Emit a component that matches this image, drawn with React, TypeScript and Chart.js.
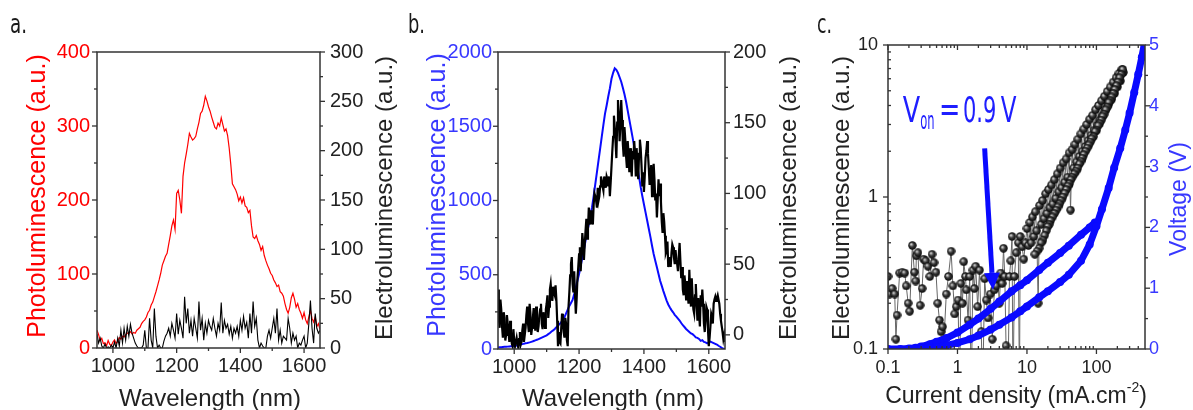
import React, { useEffect, useRef } from "react";
import { Chart, registerables } from "chart.js";
Chart.register(...registerables);

const SANS = "'Liberation Sans', Arial, Helvetica, sans-serif";
const NARROW = "'Liberation Sans Narrow', 'Arial Narrow', 'DejaVu Sans Condensed', 'Liberation Sans', sans-serif";
const AXIS = "#333333";
const RED = "#ff0000";
const BLUE = "#0a0aff";
const BLUE_TXT = "#3838ff";

// ---------- shared wavelength grid (nm) ----------
const wavelengths = [
  950, 955, 960, 965, 970, 975, 980, 985, 990, 995,
  1000, 1005, 1010, 1015, 1020, 1025, 1030, 1035, 1040, 1045,
  1050, 1055, 1060, 1065, 1070, 1075, 1080, 1085, 1090, 1095,
  1100, 1105, 1110, 1115, 1120, 1125, 1130, 1135, 1140, 1145,
  1150, 1155, 1160, 1165, 1170, 1175, 1180, 1185, 1190, 1195,
  1200, 1205, 1210, 1215, 1220, 1225, 1230, 1235, 1240, 1245,
  1250, 1255, 1260, 1265, 1270, 1275, 1280, 1285, 1290, 1295,
  1300, 1305, 1310, 1315, 1320, 1325, 1330, 1335, 1340, 1345,
  1350, 1355, 1360, 1365, 1370, 1375, 1380, 1385, 1390, 1395,
  1400, 1405, 1410, 1415, 1420, 1425, 1430, 1435, 1440, 1445,
  1450, 1455, 1460, 1465, 1470, 1475, 1480, 1485, 1490, 1495,
  1500, 1505, 1510, 1515, 1520, 1525, 1530, 1535, 1540, 1545,
  1550, 1555, 1560, 1565, 1570, 1575, 1580, 1585, 1590, 1595,
  1600, 1605, 1610, 1615, 1620, 1625, 1630, 1635, 1640, 1645,
  1650,
];
// intermediate sampling points used by the finely-sampled EL spectrum of panel b
const wavelengthsMid = [
  952.5, 957.5, 962.5, 967.5, 972.5, 977.5, 982.5, 987.5, 992.5, 997.5,
  1002.5, 1007.5, 1012.5, 1017.5, 1022.5, 1027.5, 1032.5, 1037.5, 1042.5, 1047.5,
  1052.5, 1057.5, 1062.5, 1067.5, 1072.5, 1077.5, 1082.5, 1087.5, 1092.5, 1097.5,
  1102.5, 1107.5, 1112.5, 1117.5, 1122.5, 1127.5, 1132.5, 1137.5, 1142.5, 1147.5,
  1152.5, 1157.5, 1162.5, 1167.5, 1172.5, 1177.5, 1182.5, 1187.5, 1192.5, 1197.5,
  1202.5, 1207.5, 1212.5, 1217.5, 1222.5, 1227.5, 1232.5, 1237.5, 1242.5, 1247.5,
  1252.5, 1257.5, 1262.5, 1267.5, 1272.5, 1277.5, 1282.5, 1287.5, 1292.5, 1297.5,
  1302.5, 1307.5, 1312.5, 1317.5, 1322.5, 1327.5, 1332.5, 1337.5, 1342.5, 1347.5,
  1352.5, 1357.5, 1362.5, 1367.5, 1372.5, 1377.5, 1382.5, 1387.5, 1392.5, 1397.5,
  1402.5, 1407.5, 1412.5, 1417.5, 1422.5, 1427.5, 1432.5, 1437.5, 1442.5, 1447.5,
  1452.5, 1457.5, 1462.5, 1467.5, 1472.5, 1477.5, 1482.5, 1487.5, 1492.5, 1497.5,
  1502.5, 1507.5, 1512.5, 1517.5, 1522.5, 1527.5, 1532.5, 1537.5, 1542.5, 1547.5,
  1552.5, 1557.5, 1562.5, 1567.5, 1572.5, 1577.5, 1582.5, 1587.5, 1592.5, 1597.5,
  1602.5, 1607.5, 1612.5, 1617.5, 1622.5, 1627.5, 1632.5, 1637.5, 1642.5, 1647.5,
];

// ---------- panel a ----------
const plA = [
  24, 18, 10, 13, 6, 7, 3, 10, 5, 3,
  8, 11, 6, 9, 14, 12, 16, 15, 18, 20,
  20, 22, 19, 21, 20, 24, 26, 28, 33, 36,
  38, 42, 48, 51, 58, 62, 69, 76, 84, 92,
  101, 112, 118, 124, 128, 140, 152, 165, 173, 160,
  209, 213, 200, 182, 232, 250, 262, 275, 290, 285,
  281, 283, 286, 296, 305, 317, 320, 328, 340, 334,
  326, 320, 312, 305, 298, 296, 304, 300, 311, 302,
  293, 296, 287, 270, 248, 222, 218, 214, 208, 199,
  204, 196, 203, 192, 190, 183, 186, 165, 150, 148,
  152, 145, 140, 132, 137, 125, 118, 112, 107, 101,
  98, 92, 88, 83, 85, 76, 74, 70, 60, 52,
  47, 55, 68, 74, 66, 55, 60, 52, 47, 40,
  48, 38, 33, 42, 51, 40, 35, 42, 29, 33,
  25,
];
const elA = [
  14, 5, 10, 2, 0, 4, 0, 1, 0, 3,
  0, 6, 0, 10, 2, 18, 5, 20, 8, 22,
  12, 24, 15, 10, 5, 2, 0, 0, 0, 3,
  18, 0, 0, 30, 8, 0, 40, 12, 0, 3,
  0, 0, 7, 12, 15, 20, 12, 25, 18, 10,
  35, 14, 28, 20, 10, 52, 25, 40, 15, 28,
  12, 30, 20, 10, 47, 18, 30, 8, 25, 15,
  28, 22, 18, 30, 20, 12, 25, 18, 46, 15,
  28, 20, 24, 14, 22, 10, 20, 15, 22, 12,
  28, 18, 32, 20, 26, 10, 35, 15, 47, 22,
  30, 8, 0, 5, 2, 0, 0, 12, 18, 10,
  20, 30, 15, 40, 8, 18, 5, 12, 10, 8,
  30, 20, 5, 15, 8, 12, 0, 5, 3, 8,
  12, 0, 5, 25, 48, 20, 5, 35, 20, 15,
  18,
];

// ---------- panel b ----------
const plB = [
  10, 12, 12, 14, 15, 15, 16, 17, 18, 19,
  20, 22, 25, 28, 30, 33, 36, 38, 40, 43,
  46, 50, 54, 58, 62, 66, 72, 77, 82, 87,
  92, 100, 108, 118, 125, 135, 146, 158, 168, 180,
  192, 215, 240, 265, 290, 310, 330, 370, 415, 460,
  505, 560, 615, 670, 730, 785, 840, 900, 955, 1030,
  1110, 1190, 1270, 1350, 1430, 1510, 1585, 1640, 1700, 1755,
  1820, 1860, 1890, 1880, 1860, 1830, 1800, 1760, 1715, 1665,
  1605, 1545, 1485, 1425, 1360, 1290, 1225, 1160, 1090, 1030,
  975, 920, 865, 810, 755, 695, 640, 595, 550, 505,
  460, 425, 390, 358, 326, 300, 280, 262, 247, 230,
  218, 205, 192, 175, 160, 148, 135, 125, 115, 105,
  100, 90, 78, 75, 68, 55, 60, 48, 45, 38,
  45, 50, 45, 40, 35, 30, 22, 15, 8, 2,
  0,
];
const elB = [
  32, 5, 18, -2, 12, 0, 8, -5, 2, -8,
  -4, -8, -6, -3, -7, 3, -5, 5, 20, 2,
  15, 5, 19, 3, 12, 6, 18, 8, 16, 5,
  22, 12, 32, 28, 34, 28, 25, -8, -5, 5,
  10, -2, 8, -8, 30, 50, 36, 45, 15, 40,
  57, 45, 72, 53, 74, 68, 90, 78, 83, 92,
  98, 90, 95, 105, 109, 102, 108, 112, 105, 98,
  119, 140, 147, 125, 166, 137, 166, 135, 147, 126,
  137, 115, 119, 130, 137, 112, 119, 128, 132, 105,
  101, 125, 137, 118, 111, 98, 121, 95, 83, 110,
  107, 80, 86, 70, 60, 48, 55, 58, 62, 50,
  53, 45, 65, 40, 32, 42, 25, 30, 46, 20,
  27, 15, 36, 10, 15, 28, 32, 8, 11, 18,
  -8, 6, 13, 22, 27, 26, 25, 15, 6, -3,
  -5,
];
const elBMid = [
  12, 25, 6, 16, -4, 14, 2, 10, -6, 4,
  -8, -2, -9, 2, -5, 8, 0, 14, 8, 22,
  0, 12, 10, 20, 2, 14, 22, 4, 12, 18,
  28, 20, 36, 24, 30, 35, 10, 2, -6, 15,
  2, 12, -4, 20, 42, 55, 30, 28, 25, 48,
  62, 58, 65, 64, 82, 75, 85, 88, 78, 100,
  95, 104, 98, 112, 105, 112, 104, 110, 112, 108,
  130, 155, 136, 150, 155, 150, 152, 126, 138, 118,
  128, 132, 112, 124, 128, 132, 110, 138, 120, 115,
  112, 130, 128, 106, 120, 108, 110, 100, 96, 98,
  94, 72, 80, 58, 66, 52, 48, 64, 55, 60,
  50, 56, 52, 48, 28, 36, 38, 22, 30, 40,
  18, 28, 22, 26, 6, 20, 22, 2, 20, 4,
  -2, 15, 8, 25, 24, 28, 22, 10, 2, 0,
];

// ---------- panel c : voltage (two scan branches) ----------
const vUpperJ = [0.1, 0.15, 0.2, 0.25, 0.3, 0.4, 0.5, 0.7, 1, 1.5, 2, 3, 4, 6, 8, 10, 15, 20, 30, 40, 60, 80, 95];
const vUpperV = [0, 0, 0.01, 0.02, 0.04, 0.08, 0.12, 0.18, 0.27, 0.4, 0.5, 0.66, 0.78, 0.95, 1.05, 1.13, 1.3, 1.42, 1.58, 1.7, 1.88, 2.0, 2.08];
const vLowerJ = [0.3, 0.5, 0.7, 1, 1.5, 2, 3, 4, 6, 8, 10, 15, 20, 30, 40, 60, 80, 100, 120, 150, 180, 220, 260, 300, 350, 400, 450, 490];
const vLowerV = [0.01, 0.03, 0.06, 0.1, 0.16, 0.22, 0.32, 0.4, 0.52, 0.62, 0.7, 0.85, 0.95, 1.1, 1.22, 1.45, 1.72, 2.02, 2.3, 2.65, 2.98, 3.3, 3.6, 3.88, 4.22, 4.52, 4.8, 5.02];

// ---------- panel c : electroluminescence ----------
const elLowJ = [
  0.1, 0.105, 0.115, 0.125, 0.13, 0.135, 0.147, 0.16, 0.174, 0.183,
  0.195, 0.205, 0.224, 0.24, 0.25, 0.256, 0.27, 0.29, 0.31, 0.325,
  0.35, 0.376, 0.4, 0.43, 0.46, 0.49, 0.52, 0.55, 0.58, 0.61,
  0.64, 0.69, 0.74, 0.81, 0.86, 0.91, 0.96, 1.02, 1.07, 1.12,
  1.18, 1.23, 1.3, 1.34, 1.42, 1.5, 1.58, 1.67, 1.75, 1.83,
  1.95, 2.08, 2.2, 2.3, 2.46, 2.6, 2.75, 2.97, 3.17, 3.4,
  3.6, 3.8, 4.0, 4.2, 4.4, 4.6, 4.8, 5.0, 5.3, 5.6,
  5.85, 6.1, 6.3, 6.6, 7.0, 7.5, 7.8, 8.0, 8.5, 9.0,
  9.5,
];
const elLowV = [
  0.3, 0.23, 0.25, 0.23, 0.116, 0.167, 0.316, 0.32, 0.316, 0.26,
  0.2, 0.177, 0.48, 0.32, 0.28, 0.41, 0.43, 0.194, 0.25, 0.39,
  0.38, 0.35, 0.3, 0.42, 0.37, 0.32, 0.2, 0.155, 0.13, 0.14,
  0.116, 0.23, 0.3, 0.44, 0.26, 0.17, 0.19, 0.21, 0.05, 0.27,
  0.2, 0.375, 0.3, 0.245, 0.155, 0.3, 0.05, 0.33, 0.25, 0.35,
  0.19, 0.33, 0.13, 0.05, 0.29, 0.21, 0.16, 0.23, 0.116, 0.245,
  0.26, 0.29, 0.2, 0.316, 0.27, 0.46, 0.3, 0.105, 0.05, 0.3,
  0.38, 0.55, 0.05, 0.3, 0.43, 0.5, 0.05, 0.55, 0.47, 0.39,
  0.5,
];
const elFwdJ = [
  10, 10.5, 11, 11.5, 12, 12.6, 13.2, 13.8, 14.5, 15.2,
  16, 16.8, 17.6, 18.5, 19.4, 20.4, 21.4, 22.5, 23.6, 24.8,
  26, 27.3, 28.7, 30.1, 31.6, 33.2, 34.9, 36.6, 38.5, 40.4,
  42.4, 44.5, 46.8, 49.1, 51.5, 54, 56.8, 59.6, 62.6, 65.7,
  69, 72.4, 76, 79.8, 83.8, 88, 92.4, 97, 102, 107,
  112, 118, 124, 130, 136, 143, 150, 158, 166, 174,
  183, 192, 201, 211, 222, 233, 245,
];
const elFwdV = [
  0.62, 0.48, 0.68, 0.5, 0.74, 0.55, 0.8, 0.6, 0.2, 0.88,
  0.66, 0.95, 0.72, 1.05, 0.78, 1.12, 0.85, 1.2, 0.9, 1.3,
  0.98, 1.42, 1.08, 1.55, 1.15, 1.68, 1.25, 1.78, 1.35, 1.95,
  0.82, 2.05, 1.55, 2.22, 1.7, 2.4, 1.85, 2.6, 2.0, 2.8,
  2.15, 3.0, 2.35, 3.25, 2.55, 3.45, 2.75, 3.75, 2.95, 4.0,
  3.2, 4.3, 3.45, 4.6, 3.75, 4.95, 4.05, 5.3, 4.4, 5.7,
  4.8, 6.1, 5.3, 6.5, 5.8, 6.9, 6.6,
];
const elRevJ = [
  240, 228, 216, 205, 195, 185, 176, 167, 159, 151,
  144, 137, 130, 124, 118, 112, 106, 101, 96, 91,
  86, 82, 78, 74, 70, 66, 63, 60, 57, 54,
  51, 48, 45, 43, 41, 39, 37, 35, 33, 31,
  29.5, 28, 26.5, 25, 23.5, 22, 21, 20, 19, 18,
  17, 16, 15, 14, 13,
];
const elRevV = [
  6.9, 6.4, 6.1, 5.7, 5.4, 5.1, 4.8, 4.55, 4.3, 4.2,
  3.9, 3.75, 3.5, 3.4, 3.2, 3.05, 2.95, 2.75, 2.7, 2.5,
  2.42, 2.3, 2.2, 2.1, 2.0, 1.9, 1.8, 1.72, 1.65, 1.55,
  1.48, 1.42, 1.35, 1.3, 1.22, 1.18, 1.12, 1.06, 1.0, 0.95,
  0.9, 0.86, 0.82, 0.78, 0.74, 0.7, 0.66, 0.64, 0.6, 0.56,
  0.52, 0.5, 0.46, 0.44, 0.42,
];

// ---------- ticks ----------
const wlMajor = [1000, 1200, 1400, 1600];
const wlMinor = [1100, 1300, 1500];
const plATicks = [0, 100, 200, 300, 400];
const plAMinor = [50, 150, 250, 350];
const elATicks = [0, 50, 100, 150, 200, 250, 300];
const elAMinor = [25, 75, 125, 175, 225, 275];
const plBTicks = [0, 500, 1000, 1500, 2000];
const plBMinor = [250, 750, 1250, 1750];
const elBTicks = [0, 50, 100, 150, 200];
const elBMinor = [25, 75, 125, 175];
const jMajor = [0.1, 1, 10, 100];
const jMinor = [0.2, 0.3, 0.4, 0.5, 0.6, 0.7, 0.8, 0.9, 2, 3, 4, 5, 6, 7, 8, 9, 20, 30, 40, 50, 60, 70, 80, 90, 200, 300, 400];
const elCMajor = [0.1, 1, 10];
const elCMinor = [0.2, 0.3, 0.4, 0.5, 0.6, 0.7, 0.8, 0.9, 2, 3, 4, 5, 6, 7, 8, 9];
const vMajor = [0, 1, 2, 3, 4, 5];
const vMinor = [0.5, 1.5, 2.5, 3.5, 4.5];

// annotation anchors (data coordinates of panel c)
const vonAnchor = [0.163, 3.1];
const arrowFrom = [2.46, 2.09];
const arrowTo = [3.24, 0.245];

type Side = "left" | "right" | "top" | "bottom";
interface TickSet { scale: string; side: Side; major: number[]; minor: number[]; majorOut: boolean; minorOut: boolean; }
interface Title { text: string; sup?: string; tail?: string; x: number; y: number; rot: number; color: string; size: number; }
interface Decor { ticks: TickSet[]; titles: Title[]; label: { text: string; x: number; y: number; w: number }; extra?: (chart: any) => void; }

function fitText(ctx: CanvasRenderingContext2D, text: string, x: number, y: number, width: number, size: number) {
  ctx.font = `${size}px ${NARROW}`;
  const w = ctx.measureText(text).width || 1;
  ctx.save();
  ctx.translate(x, y);
  ctx.scale(width / w, 1);
  ctx.textAlign = "left";
  ctx.textBaseline = "alphabetic";
  ctx.fillText(text, 0, 0);
  ctx.restore();
}

function decorPlugin(d: Decor) {
  return {
    id: "decor",
    afterDraw(chart: any) {
      const ctx: CanvasRenderingContext2D = chart.ctx;
      const a = chart.chartArea;
      ctx.save();
      ctx.strokeStyle = AXIS;
      ctx.lineWidth = 1.3;
      d.ticks.forEach((t) => {
        const s = chart.scales[t.scale];
        const mk = (v: number, len: number, out: boolean) => {
          const p = s.getPixelForValue(v);
          const g = out ? 1 : -1;
          ctx.beginPath();
          if (t.side === "left") { ctx.moveTo(a.left, p); ctx.lineTo(a.left - g * len, p); }
          else if (t.side === "right") { ctx.moveTo(a.right, p); ctx.lineTo(a.right + g * len, p); }
          else if (t.side === "bottom") { ctx.moveTo(p, a.bottom); ctx.lineTo(p, a.bottom + g * len); }
          else { ctx.moveTo(p, a.top); ctx.lineTo(p, a.top - g * len); }
          ctx.stroke();
        };
        t.major.forEach((v) => mk(v, 5, t.majorOut));
        t.minor.forEach((v) => mk(v, 3, t.minorOut));
      });
      ctx.lineWidth = 1.5;
      ctx.strokeRect(a.left, a.top, a.right - a.left, a.bottom - a.top);

      d.titles.forEach((t) => {
        ctx.save();
        ctx.translate(t.x, t.y);
        ctx.rotate(t.rot);
        ctx.fillStyle = t.color;
        ctx.textBaseline = "middle";
        ctx.textAlign = "left";
        const f = `${t.size}px ${SANS}`;
        const fs = `${Math.round(t.size * 0.62)}px ${SANS}`;
        ctx.font = f;
        const w1 = ctx.measureText(t.text).width;
        let w2 = 0, w3 = 0;
        if (t.sup) {
          ctx.font = fs; w2 = ctx.measureText(t.sup).width;
          ctx.font = f; w3 = ctx.measureText(t.tail || "").width;
        }
        let x = -(w1 + w2 + w3) / 2;
        ctx.font = f;
        ctx.fillText(t.text, x, 0);
        x += w1;
        if (t.sup) {
          ctx.font = fs; ctx.fillText(t.sup, x, -t.size * 0.38); x += w2;
          ctx.font = f; ctx.fillText(t.tail || "", x, 0);
        }
        ctx.restore();
      });

      ctx.fillStyle = "#1a1a1a";
      fitText(ctx, d.label.text, d.label.x, d.label.y, d.label.w, 26);

      if (d.extra) d.extra(chart);
      ctx.restore();
    },
  };
}

function linearAxis(opts: any) {
  const { min, max, ticks, position, width, color, padding, size, height } = opts;
  return {
    type: opts.type || "linear",
    position,
    min,
    max,
    afterBuildTicks: (s: any) => { s.ticks = ticks.map((v: number) => ({ value: v })); },
    afterFit: (s: any) => {
      if (width !== undefined) s.width = width;
      if (height !== undefined) s.height = height;
    },
    grid: { display: false, drawTicks: false },
    border: { display: false },
    ticks: {
      autoSkip: false,
      maxRotation: 0,
      minRotation: 0,
      padding,
      color,
      font: { family: SANS, size },
      callback: (v: any) => String(v),
    },
  };
}

function makeBall(): HTMLCanvasElement {
  const c = document.createElement("canvas");
  c.width = 9; c.height = 9;
  const g = c.getContext("2d")!;
  const grad = g.createRadialGradient(3.2, 3.2, 0.3, 4.5, 4.5, 4.5);
  grad.addColorStop(0, "#d8d8d8");
  grad.addColorStop(0.45, "#3a3a3a");
  grad.addColorStop(1, "#000000");
  g.fillStyle = grad;
  g.beginPath();
  g.arc(4.5, 4.5, 4.2, 0, Math.PI * 2);
  g.fill();
  return c;
}

export default function App() {
  const ra = useRef<HTMLCanvasElement>(null);
  const rb = useRef<HTMLCanvasElement>(null);
  const rc = useRef<HTMLCanvasElement>(null);

  useEffect(() => {
    const charts: Chart[] = [];
    const common = {
      responsive: false,
      animation: false as const,
      devicePixelRatio: 1,
      events: [] as any[],
      plugins: { legend: { display: false }, tooltip: { enabled: false } },
    };

    // ----- panel a -----
    charts.push(new Chart(ra.current!, {
      type: "line",
      data: {
        datasets: [
          { data: wavelengths.map((w, i) => ({ x: w, y: elA[i] })), yAxisID: "y1", borderColor: "#000", borderWidth: 1.1, pointRadius: 0, order: 0 },
          { data: wavelengths.map((w, i) => ({ x: w, y: plA[i] })), yAxisID: "y", borderColor: RED, borderWidth: 1.2, pointRadius: 0, order: 1 },
        ],
      },
      options: {
        ...common,
        layout: { padding: { top: 52, left: 0, right: 0, bottom: 0 } },
        scales: {
          x: linearAxis({ min: 950, max: 1650, ticks: wlMajor, position: "bottom", height: 62, color: "#222", padding: 6, size: 20 }),
          y: linearAxis({ min: 0, max: 400, ticks: plATicks, position: "left", width: 97, color: RED, padding: 7, size: 20 }),
          y1: linearAxis({ min: 0, max: 300, ticks: elATicks, position: "right", width: 80, color: "#222", padding: 10, size: 20 }),
        },
      } as any,
      plugins: [decorPlugin({
        ticks: [
          { scale: "x", side: "bottom", major: wlMajor, minor: wlMinor, majorOut: true, minorOut: true },
          { scale: "y", side: "left", major: plATicks, minor: plAMinor, majorOut: true, minorOut: true },
          { scale: "y1", side: "right", major: elATicks, minor: elAMinor, majorOut: true, minorOut: true },
        ],
        titles: [
          { text: "Photoluminescence (a.u.)", x: 38, y: 196, rot: -Math.PI / 2, color: RED, size: 25 },
          { text: "Electroluminescence (a.u.)", x: 385, y: 198, rot: -Math.PI / 2, color: "#222", size: 24 },
          { text: "Wavelength (nm)", x: 210, y: 399, rot: 0, color: "#222", size: 24 },
        ],
        label: { text: "a.", x: 10, y: 33, w: 17 },
      }) as any],
    }));

    // ----- panel b -----
    const elBPoints = [
      ...wavelengths.map((w, i) => ({ x: w, y: elB[i] })),
      ...wavelengthsMid.map((w, i) => ({ x: w, y: elBMid[i] })),
    ].sort((p, q) => p.x - q.x);
    charts.push(new Chart(rb.current!, {
      type: "line",
      data: {
        datasets: [
          { data: elBPoints, yAxisID: "y1", borderColor: "#000", borderWidth: 2.2, pointRadius: 0, order: 0 },
          { data: wavelengths.map((w, i) => ({ x: w, y: plB[i] })), yAxisID: "y", borderColor: BLUE, borderWidth: 2, pointRadius: 0, order: 1 },
        ],
      },
      options: {
        ...common,
        layout: { padding: { top: 52, left: 0, right: 0, bottom: 0 } },
        scales: {
          x: linearAxis({ min: 950, max: 1650, ticks: wlMajor, position: "bottom", height: 61, color: "#222", padding: 6, size: 20 }),
          y: linearAxis({ min: 0, max: 2000, ticks: plBTicks, position: "left", width: 98, color: BLUE_TXT, padding: 6, size: 20 }),
          y1: linearAxis({ min: -10, max: 200, ticks: elBTicks, position: "right", width: 75, color: "#222", padding: 8, size: 20 }),
        },
      } as any,
      plugins: [decorPlugin({
        ticks: [
          { scale: "x", side: "bottom", major: wlMajor, minor: wlMinor, majorOut: true, minorOut: true },
          { scale: "y", side: "left", major: plBTicks, minor: plBMinor, majorOut: true, minorOut: true },
          { scale: "y1", side: "right", major: elBTicks, minor: elBMinor, majorOut: true, minorOut: true },
        ],
        titles: [
          { text: "Photoluminescence (a.u.)", x: 38, y: 195, rot: -Math.PI / 2, color: BLUE_TXT, size: 25 },
          { text: "Electroluminescence (a.u.)", x: 389, y: 198, rot: -Math.PI / 2, color: "#222", size: 24 },
          { text: "Wavelength (nm)", x: 213, y: 399, rot: 0, color: "#222", size: 24 },
        ],
        label: { text: "b.", x: 8, y: 33, w: 17 },
      }) as any],
    }));

    // ----- panel c -----
    const ball = makeBall();
    const elJ = [...elLowJ, ...elFwdJ, ...elRevJ];
    const elV = [...elLowV, ...elFwdV, ...elRevV];
    const vStyle = { yAxisID: "y1", borderColor: BLUE, backgroundColor: BLUE, borderWidth: 7, pointRadius: 4, pointBorderWidth: 0, pointBackgroundColor: BLUE };
    charts.push(new Chart(rc.current!, {
      type: "line",
      data: {
        datasets: [
          { ...vStyle, data: vLowerJ.map((j, i) => ({ x: j, y: vLowerV[i] })), order: 0 },
          { ...vStyle, data: vUpperJ.map((j, i) => ({ x: j, y: vUpperV[i] })), order: 1 },
          { data: elJ.map((j, i) => ({ x: j, y: elV[i] })), yAxisID: "y", borderColor: "#666", borderWidth: 1, pointStyle: ball, pointRadius: 4.5, order: 2 },
        ],
      },
      options: {
        ...common,
        layout: { padding: { top: 45, left: 0, right: 0, bottom: 0 } },
        scales: {
          x: linearAxis({ type: "logarithmic", min: 0.1, max: 500, ticks: jMajor, position: "bottom", height: 61, color: "#222", padding: 8, size: 18 }),
          y: linearAxis({ type: "logarithmic", min: 0.1, max: 10, ticks: elCMajor, position: "left", width: 88, color: "#222", padding: 10, size: 18 }),
          y1: linearAxis({ min: 0, max: 5, ticks: vMajor, position: "right", width: 48, color: BLUE_TXT, padding: 4, size: 18 }),
        },
      } as any,
      plugins: [decorPlugin({
        ticks: [
          { scale: "x", side: "bottom", major: jMajor, minor: jMinor, majorOut: true, minorOut: false },
          { scale: "x", side: "top", major: jMajor, minor: jMinor, majorOut: false, minorOut: false },
          { scale: "y", side: "left", major: elCMajor, minor: elCMinor, majorOut: true, minorOut: false },
          { scale: "y1", side: "right", major: vMajor, minor: vMinor, majorOut: true, minorOut: true },
        ],
        titles: [
          { text: "Electroluminescence (a.u.)", x: 42, y: 198, rot: -Math.PI / 2, color: "#222", size: 24 },
          { text: "Voltage (V)", x: 380, y: 199, rot: -Math.PI / 2, color: BLUE_TXT, size: 23 },
          { text: "Current density (mA.cm", sup: "-2", tail: ")", x: 216, y: 397, rot: 0, color: "#222", size: 23 },
        ],
        label: { text: "c.", x: 17, y: 33, w: 15 },
        extra: (chart: any) => {
          const ctx: CanvasRenderingContext2D = chart.ctx;
          const xs = chart.scales.x, ys = chart.scales.y;
          const x0 = xs.getPixelForValue(arrowFrom[0]), y0 = ys.getPixelForValue(arrowFrom[1]);
          const x1 = xs.getPixelForValue(arrowTo[0]), y1 = ys.getPixelForValue(arrowTo[1]);
          const ang = Math.atan2(y1 - y0, x1 - x0);
          const hl = 17, hw = 8;
          const bx = x1 - hl * Math.cos(ang), by = y1 - hl * Math.sin(ang);
          ctx.strokeStyle = BLUE;
          ctx.fillStyle = BLUE;
          ctx.lineWidth = 5;
          ctx.beginPath(); ctx.moveTo(x0, y0); ctx.lineTo(bx, by); ctx.stroke();
          ctx.beginPath();
          ctx.moveTo(x1, y1);
          ctx.lineTo(bx + hw * Math.sin(ang), by - hw * Math.cos(ang));
          ctx.lineTo(bx - hw * Math.sin(ang), by + hw * Math.cos(ang));
          ctx.closePath(); ctx.fill();
          const tx = xs.getPixelForValue(vonAnchor[0]);
          const ty = ys.getPixelForValue(vonAnchor[1]);
          ctx.fillStyle = "#1e1eff";
          fitText(ctx, "V", tx, ty, 17.4, 35);
          fitText(ctx, "on", tx + 17.6, ty + 6.5, 14.3, 25);
          fitText(ctx, "=", tx + 36.2, ty - 1, 21.4, 35);
          fitText(ctx, "0.9", tx + 60.2, ty, 33.4, 35);
          fitText(ctx, "V", tx + 97.9, ty, 15.7, 35);
        },
      }) as any],
    }));

    return () => { charts.forEach((c) => c.destroy()); };
  }, []);

  return (
    <div style={{ position: "absolute", left: 0, top: 0, width: 1193, height: 410, background: "#fff", overflow: "hidden" }}>
      <canvas ref={ra} width={400} height={410} style={{ position: "absolute", left: 0, top: 0 }} />
      <canvas ref={rb} width={400} height={410} style={{ position: "absolute", left: 400, top: 0 }} />
      <canvas ref={rc} width={393} height={410} style={{ position: "absolute", left: 800, top: 0 }} />
    </div>
  );
}
